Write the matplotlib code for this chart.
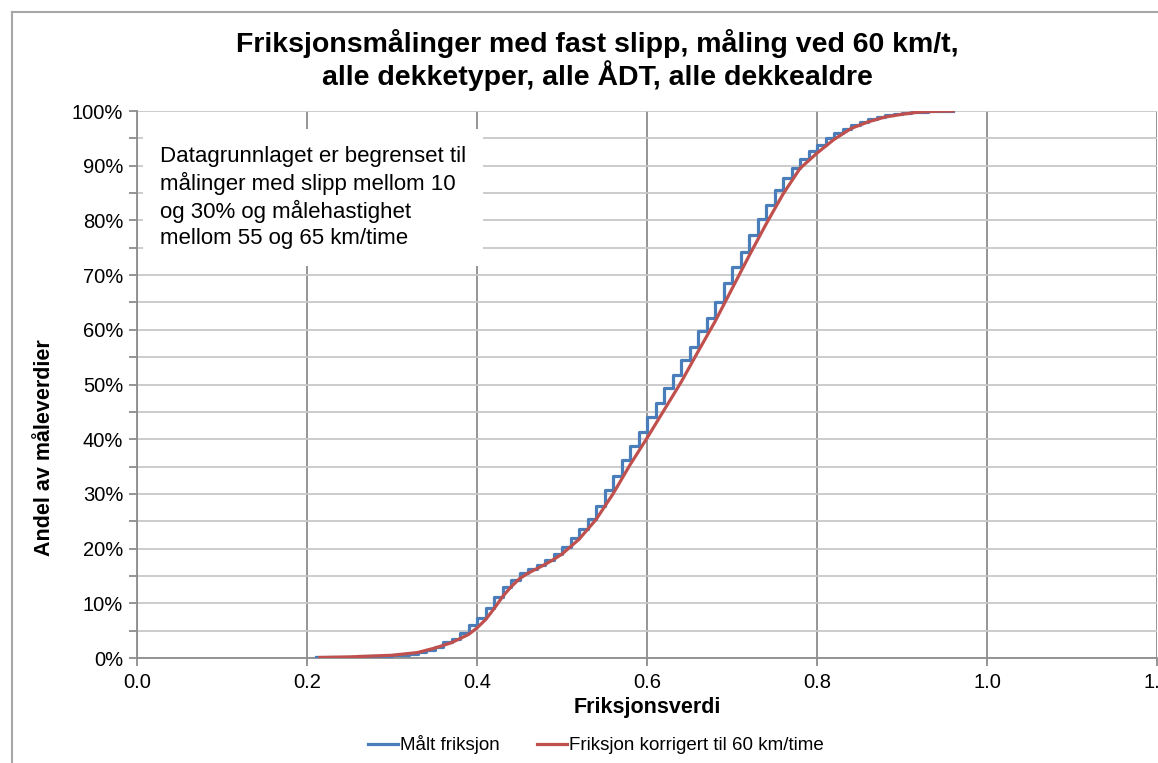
import matplotlib.pyplot as plt
from matplotlib.lines import Line2D
from matplotlib.ticker import MultipleLocator, FuncFormatter

plt.rcParams['font.family'] = ['Liberation Sans', 'DejaVu Sans']

# Målt friksjon (step CDF), andel i % ved hver friksjonsverdi
malt_x = [0.21, 0.22, 0.23, 0.24, 0.25, 0.26, 0.27, 0.28, 0.29, 0.30,
          0.31, 0.32, 0.33, 0.34, 0.35, 0.36, 0.37, 0.38, 0.39, 0.40,
          0.41, 0.42, 0.43, 0.44, 0.45, 0.46, 0.47, 0.48, 0.49, 0.50,
          0.51, 0.52, 0.53, 0.54, 0.55, 0.56, 0.57, 0.58, 0.59, 0.60,
          0.61, 0.62, 0.63, 0.64, 0.65, 0.66, 0.67, 0.68, 0.69, 0.70,
          0.71, 0.72, 0.73, 0.74, 0.75, 0.76, 0.77, 0.78, 0.79, 0.80,
          0.81, 0.82, 0.83, 0.84, 0.85, 0.86, 0.87, 0.88, 0.89, 0.90,
          0.91, 0.92, 0.93, 0.94, 0.95, 0.96]
malt_y = [0.1, 0.1, 0.2, 0.2, 0.2, 0.3, 0.3, 0.4, 0.4, 0.5,
          0.6, 0.8, 1.1, 1.5, 2.0, 3.0, 3.4, 4.5, 6.0, 7.4,
          9.2, 11.1, 12.9, 14.3, 15.5, 16.3, 17.0, 17.9, 19.0, 20.3,
          21.9, 23.5, 25.5, 27.8, 30.7, 33.3, 36.2, 38.8, 41.4, 44.1,
          46.6, 49.3, 51.7, 54.5, 56.9, 59.7, 62.1, 65.1, 68.5, 71.5,
          74.3, 77.3, 80.2, 82.8, 85.6, 87.7, 89.5, 91.2, 92.6, 93.8,
          95.0, 95.9, 96.7, 97.4, 98.0, 98.5, 98.9, 99.2, 99.5, 99.7,
          99.8, 99.9, 99.95, 100.0, 100.0, 100.0]

# Friksjon korrigert til 60 km/time (glatt kurve)
korr_x = [0.215, 0.25, 0.30, 0.33, 0.35, 0.37, 0.39, 0.40, 0.41, 0.42,
          0.43, 0.44, 0.45, 0.46, 0.47, 0.48, 0.49, 0.50, 0.52, 0.54,
          0.56, 0.58, 0.60, 0.62, 0.64, 0.66, 0.68, 0.70, 0.72, 0.74,
          0.76, 0.78, 0.80, 0.82, 0.84, 0.86, 0.88, 0.90, 0.92, 0.94, 0.96]
korr_y = [0.1, 0.2, 0.5, 1.0, 1.8, 2.8, 4.3, 5.5, 7.0, 9.0,
          11.2, 13.0, 14.5, 15.5, 16.3, 17.1, 18.0, 19.0, 21.7, 25.3,
          30.0, 35.3, 40.2, 45.3, 50.4, 56.0, 61.5, 67.5, 73.5, 79.3,
          84.8, 89.5, 92.3, 94.8, 96.8, 98.0, 98.9, 99.4, 99.8, 99.95, 100.0]

BLUE = "#4a7ebb"
RED = "#c0504d"

fig = plt.figure(figsize=(11.58, 7.63), dpi=100)
ax = fig.add_axes([137 / 1158, 1 - 658 / 763, 1020 / 1158, 547 / 763])

ax.step(malt_x, malt_y, where="post", color=BLUE, lw=2.3, zorder=3)
ax.plot(korr_x, korr_y, color=RED, lw=2.3, zorder=4)

ax.set_xlim(0, 1.2)
ax.set_ylim(0, 100)
ax.xaxis.set_major_locator(MultipleLocator(0.2))
ax.yaxis.set_major_locator(MultipleLocator(10))
ax.yaxis.set_minor_locator(MultipleLocator(5))
ax.xaxis.set_major_formatter(FuncFormatter(lambda v, p: f"{v:.1f}"))
ax.yaxis.set_major_formatter(FuncFormatter(lambda v, p: f"{v:.0f}%"))

ax.grid(True, axis="x", color="#8c8c8c", lw=1.3)
ax.grid(True, axis="y", which="both", color="#c8c8c8", lw=1.3)
ax.set_axisbelow(True)

for side in ("top", "right"):
    ax.spines[side].set_visible(False)
ax.spines["left"].set_color("#8c8c8c")
ax.spines["bottom"].set_color("#8c8c8c")
ax.spines["left"].set_linewidth(1.3)
ax.spines["bottom"].set_linewidth(1.3)
ax.tick_params(axis="both", which="both", color="#8c8c8c", width=1.3,
               length=6, labelsize=14.5, pad=4)
ax.tick_params(axis="x", pad=5)

ax.set_xlabel("Friksjonsverdi", fontsize=15.5, fontweight="bold")
ax.set_ylabel("Andel av måleverdier", fontsize=15.5, fontweight="bold")
ax.xaxis.set_label_coords(0.5, -(708 - 658) / 547)
ax.yaxis.set_label_coords(-(137 - 45) / 1020, (658 - 448) / 547)
ax.xaxis.label.set_va("center")
ax.yaxis.label.set_va("center")

fig.text(597 / 1158, 1 - 60 / 763,
         "Friksjonsmålinger med fast slipp, måling ved 60 km/t,\n"
         "alle dekketyper, alle ÅDT, alle dekkealdre",
         ha="center", va="center", fontsize=20.5, fontweight="bold",
         linespacing=1.05)

ax.text((160 - 137) / 1020, (658 - 146) / 547,
        "Datagrunnlaget er begrenset til\nmålinger med slipp mellom 10\n"
        "og 30% og målehastighet\nmellom 55 og 65 km/time",
        transform=ax.transAxes, ha="left", va="top", fontsize=16,
        linespacing=1.28, zorder=5,
        bbox=dict(boxstyle="square,pad=0.75", fc="white", ec="none"))

handles = [Line2D([], [], color=BLUE, lw=2.3), Line2D([], [], color=RED, lw=2.3)]
fig.legend(handles, ["Målt friksjon", "Friksjon korrigert til 60 km/time"],
           loc="center", bbox_to_anchor=(596 / 1158, 1 - 745 / 763), ncol=2,
           frameon=False, fontsize=13.5, handlelength=1.6, handletextpad=0.1,
           columnspacing=2.0)

# chart frame
fig.add_artist(Line2D([12 / 1158, 12 / 1158], [0, 1 - 12 / 763],
                      transform=fig.transFigure, color="#a6a6a6", lw=1.5))
fig.add_artist(Line2D([12 / 1158, 1], [1 - 12 / 763, 1 - 12 / 763],
                      transform=fig.transFigure, color="#a6a6a6", lw=1.5))

fig.savefig("out.png", dpi=100)
